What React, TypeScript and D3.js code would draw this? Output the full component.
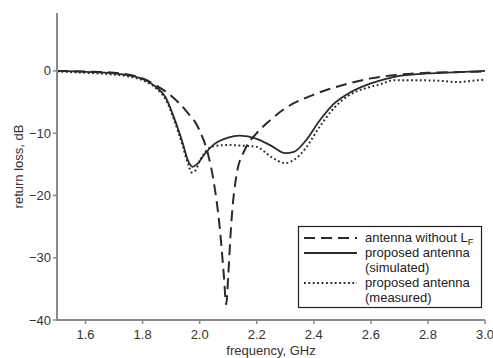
import React from "react";
import * as d3 from "d3";

// frequency in GHz, return loss in dB
const noLfFreq = [1.5, 1.6, 1.7, 1.8, 1.85, 1.9, 1.95, 2.0, 2.03, 2.05, 2.07, 2.085, 2.093, 2.1, 2.11, 2.13, 2.16, 2.2, 2.25, 2.3, 2.4, 2.5, 2.6, 2.7, 2.8, 2.9, 3.0];
const noLfLoss = [0, -0.1, -0.3, -1.2, -2.4, -4.0, -6.3, -9.6, -13.5, -18, -25, -33, -37.5, -33, -25, -16.5, -12.5, -10, -7.8, -6, -3.8, -2.3, -1.2, -0.6, -0.3, -0.2, -0.1];

const simFreq = [1.5, 1.6, 1.7, 1.75, 1.8, 1.85, 1.88, 1.91, 1.94, 1.96, 1.975, 1.99, 2.02, 2.05, 2.1, 2.14, 2.2, 2.25, 2.3, 2.33, 2.37, 2.42, 2.47, 2.53, 2.6, 2.65, 2.7, 2.8, 2.9, 3.0];
const simLoss = [0, -0.15, -0.4, -0.7, -1.3, -2.7, -4.2, -7.5, -11.5, -14.5, -15.4, -15, -13.2, -11.8, -10.7, -10.4, -10.9, -12, -13.2, -13, -11.3, -8, -5.3, -3.4, -2.0, -1.3, -0.8, -0.4, -0.2, 0];

const measFreq = [1.5, 1.6, 1.7, 1.75, 1.8, 1.85, 1.88, 1.91, 1.94, 1.96, 1.972, 1.985, 2.0, 2.03, 2.06, 2.1, 2.15, 2.2, 2.25, 2.3, 2.33, 2.37, 2.42, 2.47, 2.52, 2.58, 2.63, 2.68, 2.75, 2.85, 2.9, 2.95, 3.0];
const measLoss = [-0.1, -0.3, -0.6, -0.9, -1.5, -2.9, -4.5, -7.8, -12, -15, -16.3, -16, -14.5, -12.5, -12, -11.9, -12, -12.2, -13.8, -14.8, -14.3, -12.5, -9, -6, -4, -2.8, -2.2, -1.5, -1.5, -1.6, -1.8, -1.6, -1.4];

const xTicks = [1.6, 1.8, 2.0, 2.2, 2.4, 2.6, 2.8, 3.0];
const yTicks = [0, -10, -20, -30, -40];

const W = 493;
const H = 358;
const font = "'Liberation Sans', Arial, Helvetica, sans-serif";

export default function App() {
  const x = d3.scaleLinear().domain([1.5, 3.0]).range([57, 485]);
  const y = d3.scaleLinear().domain([-40, 9.3]).range([320, 13]);

  const line = d3
    .line<[number, number]>()
    .x((d) => x(d[0]))
    .y((d) => y(d[1]))
    .curve(d3.curveMonotoneX);

  const zip = (f: number[], v: number[]) => f.map((d, i) => [d, v[i]] as [number, number]);

  const axisColor = "#8a8a8a";
  const ink = "#2a2a2a";
  const fmt = (v: number) => (v < 0 ? "\u2212" + Math.abs(v) : String(v));

  return (
    <svg width={W} height={H} style={{ position: "absolute", left: 0, top: 0, background: "#fff" }} fontFamily={font}>
      {/* curves */}
      <path d={line(zip(noLfFreq, noLfLoss)) || ""} fill="none" stroke={ink} strokeWidth={2} strokeDasharray="11,6" />
      <path d={line(zip(simFreq, simLoss)) || ""} fill="none" stroke={ink} strokeWidth={1.8} />
      <path d={line(zip(measFreq, measLoss)) || ""} fill="none" stroke={ink} strokeWidth={2} strokeDasharray="1.8,2.6" />

      {/* axes */}
      <line x1={x(1.5)} x2={x(1.5)} y1={y(9.3)} y2={y(-40) + 1} stroke={axisColor} strokeWidth={2} />
      <line x1={x(1.5) - 1} x2={x(3.0)} y1={y(-40)} y2={y(-40)} stroke={axisColor} strokeWidth={2} />
      {yTicks.map((t) => (
        <g key={t}>
          <line x1={x(1.5) - 4} x2={x(1.5)} y1={y(t)} y2={y(t)} stroke={axisColor} strokeWidth={1.5} />
          <text x={x(1.5) - 6} y={y(t) + 4.5} textAnchor="end" fontSize={13} fill="#333">
            {fmt(t)}
          </text>
        </g>
      ))}
      {xTicks.map((t) => (
        <g key={t}>
          <line x1={x(t)} x2={x(t)} y1={y(-40)} y2={y(-40) + 4} stroke={axisColor} strokeWidth={1.5} />
          <text x={x(t)} y={y(-40) + 19} textAnchor="middle" fontSize={13} fill="#333">
            {t.toFixed(1)}
          </text>
        </g>
      ))}
      <text x={(x(1.5) + x(3.0)) / 2} y={355} textAnchor="middle" fontSize={13} fill="#333">
        frequency, GHz
      </text>
      <text transform={`translate(23,${(y(9.3) + y(-40)) / 2}) rotate(-90)`} textAnchor="middle" fontSize={13} fill="#333">
        return loss, dB
      </text>

      {/* legend */}
      <rect x={298.5} y={226.5} width={183} height={81} fill="#fff" stroke="#222" strokeWidth={1.2} />
      <line x1={304} x2={357} y1={238} y2={238} stroke={ink} strokeWidth={2} strokeDasharray="11,6" />
      <line x1={304} x2={357} y1={253} y2={253} stroke={ink} strokeWidth={1.8} />
      <line x1={304} x2={357} y1={283} y2={283} stroke={ink} strokeWidth={2} strokeDasharray="1.8,2.6" />
      <g fontSize={13} fill="#222">
        <text x={365} y={242}>
          antenna without L<tspan fontSize={9.5} dy={3}>F</tspan>
        </text>
        <text x={365} y={257}>proposed antenna</text>
        <text x={365} y={272}>(simulated)</text>
        <text x={365} y={287}>proposed antenna</text>
        <text x={365} y={302}>(measured)</text>
      </g>
    </svg>
  );
}
